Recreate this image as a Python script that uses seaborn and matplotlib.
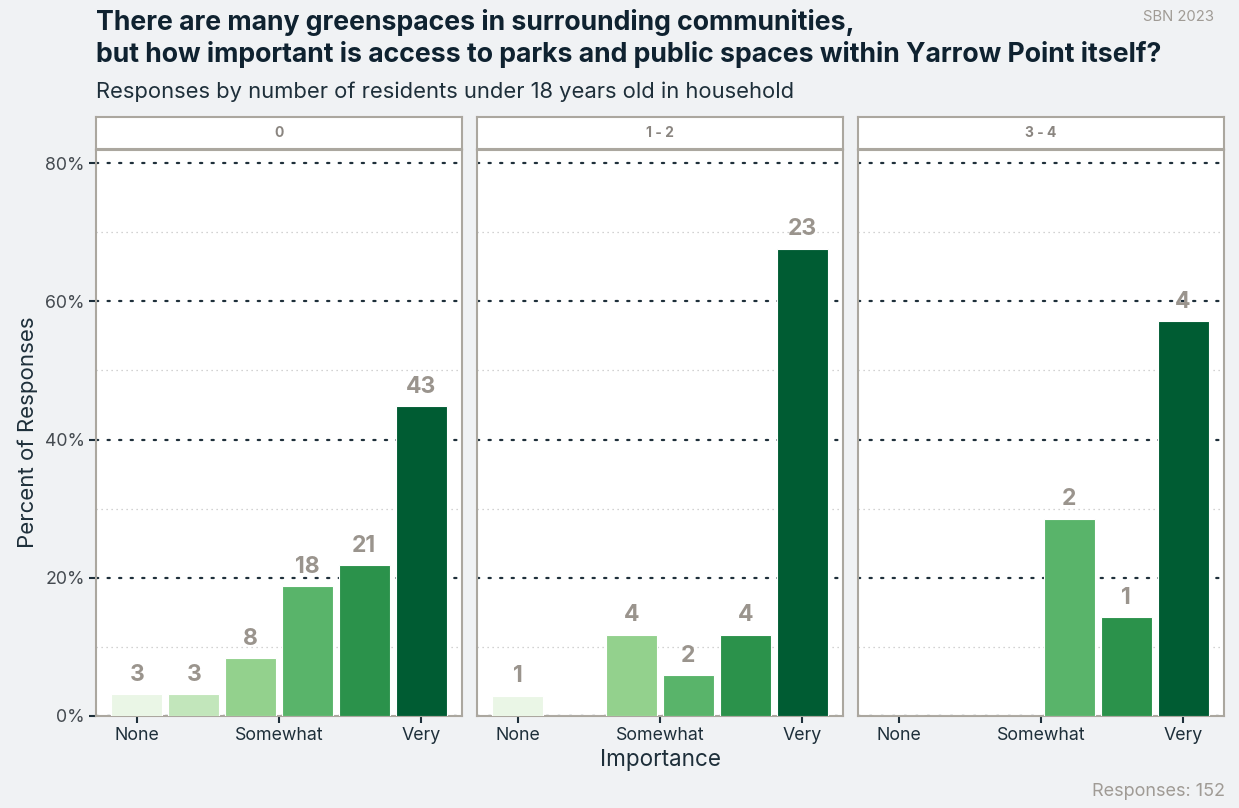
import numpy as np
import pandas as pd
import matplotlib
matplotlib.use('Agg')
import matplotlib.pyplot as plt
import seaborn as sns

# 数据
facets = ['0', '1 - 2', '3 - 4']
levels = [1, 2, 3, 4, 5, 6]
counts_0 = [3, 3, 8, 18, 21, 43]
counts_12 = [1, 0, 4, 2, 4, 23]
counts_34 = [0, 0, 0, 2, 1, 4]
tick_pos = [0, 2.5, 5]
tick_labels = ['None', 'Somewhat', 'Very']
greens = ['#eaf6e6', '#c2e6bb', '#93d18d', '#59b46a', '#2b924b', '#005c33']

rows = []
for facet, cnts in zip(facets, [counts_0, counts_12, counts_34]):
    total = sum(cnts)
    for lvl, c in zip(levels, cnts):
        rows.append({'facet': facet, 'level': lvl, 'count': c, 'pct': 100 * c / total})
df = pd.DataFrame(rows)

W, H = 1239, 808
BG = '#f0f2f4'
DARK = '#1e2f3a'
BORDER = '#aba79f'
LABEL = '#9a948d'

sns.set_theme(style='white')
plt.rcParams['font.family'] = ['Inter', 'DejaVu Sans']

fig = plt.figure(figsize=(W / 100, H / 100), dpi=100, facecolor=BG)

def px(x0, y0, x1, y1):
    return [x0 / W, 1 - y1 / H, (x1 - x0) / W, (y1 - y0) / H]

panel_x = [96, 477, 858]
pw = 366
axes = []
for i, facet in enumerate(facets):
    ax = fig.add_axes(px(panel_x[i], 150, panel_x[i] + pw, 716))
    sub = df[df['facet'] == facet]
    sns.barplot(data=sub, x='level', y='pct', hue='level', order=levels,
                hue_order=levels, palette=greens, legend=False, width=0.9,
                saturation=1, edgecolor='white', linewidth=0.8, ax=ax, zorder=3)
    ax.set_facecolor('white')
    ax.set_xlim(-0.72, 5.72)
    ax.set_ylim(0, 81.9)
    # 网格线
    for v in [0, 20, 40, 60, 80]:
        ax.axhline(v, color=DARK, lw=1.6, ls=(0, (1, 4.2)), dash_capstyle='round', zorder=1)
    for v in [10, 30, 50, 70]:
        ax.axhline(v, color='#c4c4c4', lw=0.9, ls=(0, (1, 3)), zorder=1)
    # 数值标签
    for j, (lvl, c, p) in enumerate(zip(sub['level'], sub['count'], sub['pct'])):
        if c > 0:
            ax.text(j, p + 1.2, str(c), ha='center', va='bottom', fontsize=16.5,
                    fontweight='bold', color=LABEL, zorder=4)
    ax.set_xticks(tick_pos)
    ax.set_xticklabels(tick_labels, fontsize=12.8, color=DARK)
    ax.set_yticks([0, 20, 40, 60, 80])
    if i == 0:
        ax.set_yticklabels(['0%', '20%', '40%', '60%', '80%'], fontsize=12.8, color='#444a50')
        ax.tick_params(axis='y', length=5, width=1.5, color=DARK, pad=3, left=True)
    else:
        ax.set_yticklabels([])
        ax.tick_params(axis='y', length=0)
    ax.tick_params(axis='x', length=5, width=1.5, color=DARK, pad=3, bottom=True)
    ax.set_xlabel('')
    ax.set_ylabel('')
    for s in ax.spines.values():
        s.set_visible(True)
        s.set_color(BORDER)
        s.set_linewidth(1.5)
    axes.append(ax)

    # 分面标题条
    sax = fig.add_axes(px(panel_x[i], 117, panel_x[i] + pw, 149))
    sax.set_facecolor('white')
    sax.set_xticks([])
    sax.set_yticks([])
    for s in sax.spines.values():
        s.set_color(BORDER)
        s.set_linewidth(1.5)
    sax.text(0.5, 0.5, facet, ha='center', va='center', fontsize=10,
             fontweight='bold', color='#8a8580', transform=sax.transAxes)

# 文字
fig.text(96 / W, 1 - 22 / H, 'There are many greenspaces in surrounding communities,',
         fontsize=19.2, fontweight='bold', color='#0f2230', va='center', ha='left')
fig.text(96 / W, 1 - 54 / H, 'but how important is access to parks and public spaces within Yarrow Point itself?',
         fontsize=19.2, fontweight='bold', color='#0f2230', va='center', ha='left')
fig.text(96 / W, 1 - 92 / H, 'Responses by number of residents under 18 years old in household',
         fontsize=15.8, color='#1e2f3a', va='center', ha='left')
fig.text(1214 / W, 1 - 17 / H, 'SBN 2023', fontsize=10.7, color='#a09b95', ha='right', va='center')
fig.text(1225 / W, 1 - 791 / H, 'Responses: 152', fontsize=13, color='#a09b95', ha='right', va='center')
fig.text(660 / W, 1 - 760 / H, 'Importance', fontsize=16.2, color=DARK, ha='center', va='center')
fig.text(28 / W, 1 - 432 / H, 'Percent of Responses', fontsize=16, color=DARK, ha='center',
         va='center', rotation=90)

fig.savefig('out.png', dpi=100, facecolor=BG)
